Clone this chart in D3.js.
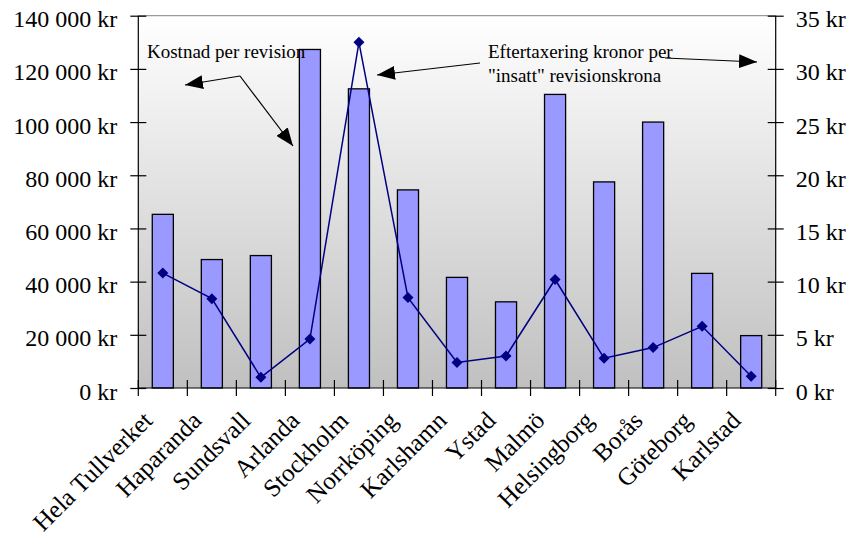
<!DOCTYPE html>
<html lang="sv">
<head>
<meta charset="utf-8">
<title>Kostnad per revision och eftertaxering</title>
<script src="https://cdn.jsdelivr.net/npm/d3@7"></script>
<style>
  html, body { margin: 0; padding: 0; background: #ffffff; }
  svg { display: block; font-family: "Liberation Serif", "Times New Roman", serif; }
</style>
</head>
<body>
<svg id="chart" width="854" height="544"></svg>
<script>
// Tullverkets revisionsenheter
const categories = [
  "Hela Tullverket", "Haparanda", "Sundsvall", "Arlanda", "Stockholm",
  "Norrköping", "Karlshamn", "Ystad", "Malmö", "Helsingborg",
  "Borås", "Göteborg", "Karlstad"
];
// Kostnad per revision (kr), vänster axel
const costPerAudit = [65300, 48300, 49800, 127300, 112500, 74500, 41600, 32400, 110400, 77500, 100000, 43100, 19700];
// Eftertaxering i kronor per insatt revisionskrona, höger axel
const extraTaxPerKrona = [10.8, 8.4, 1.0, 4.6, 32.5, 8.5, 2.4, 3.0, 10.2, 2.8, 3.8, 5.8, 1.1];

const leftTicks = [0, 20000, 40000, 60000, 80000, 100000, 120000, 140000];
const rightTicks = [0, 5, 10, 15, 20, 25, 30, 35];

const annotationCost = "Kostnad per revision";
const annotationTaxLines = ["Eftertaxering kronor per", "\"insatt\" revisionskrona"];

const svg = d3.select("#chart");
const plot = { left: 138.3, right: 775.7, top: 15.7, bottom: 388 };

const sv = d3.formatLocale({ decimal: ",", thousands: " ", grouping: [3], currency: ["", " kr"] });
const fmtKr = sv.format("$,.0f");

const x = d3.scaleBand().domain(categories).range([plot.left, plot.right])
  .paddingInner(0.57).paddingOuter(0.285);
const yL = d3.scaleLinear().domain([0, 140000]).range([plot.bottom, plot.top]);
const yR = d3.scaleLinear().domain([0, 35]).range([plot.bottom, plot.top]);

// plot area background: white fading to grey
const defs = svg.append("defs");
const grad = defs.append("linearGradient").attr("id", "bg")
  .attr("x1", 0).attr("y1", 0).attr("x2", 0).attr("y2", 1);
grad.append("stop").attr("offset", "0%").attr("stop-color", "#ffffff");
grad.append("stop").attr("offset", "100%").attr("stop-color", "#c0c0c0");

defs.append("marker").attr("id", "arrow")
  .attr("viewBox", "0 0 18 14").attr("refX", 18).attr("refY", 7)
  .attr("markerWidth", 18).attr("markerHeight", 14)
  .attr("markerUnits", "userSpaceOnUse").attr("orient", "auto")
  .append("path").attr("d", "M0,0 L18,7 L0,14 Z").attr("fill", "#000");

svg.append("rect")
  .attr("x", plot.left).attr("y", plot.top)
  .attr("width", plot.right - plot.left).attr("height", plot.bottom - plot.top)
  .attr("fill", "url(#bg)");

// top border of plot area
svg.append("line")
  .attr("x1", plot.left).attr("x2", plot.right)
  .attr("y1", plot.top).attr("y2", plot.top)
  .attr("stroke", "#9a9a9a").attr("stroke-width", 1.2);

// bars
svg.append("g").selectAll("rect")
  .data(categories)
  .join("rect")
  .attr("x", d => x(d))
  .attr("y", (d, i) => yL(costPerAudit[i]))
  .attr("width", x.bandwidth())
  .attr("height", (d, i) => yL(0) - yL(costPerAudit[i]))
  .attr("fill", "#9999ff")
  .attr("stroke", "#000")
  .attr("stroke-width", 1.3);

// line series
const cx = d => x(d) + x.bandwidth() / 2;
const line = d3.line().x((d, i) => cx(categories[i])).y(d => yR(d));
svg.append("path")
  .datum(extraTaxPerKrona)
  .attr("d", line)
  .attr("fill", "none")
  .attr("stroke", "#000080")
  .attr("stroke-width", 1.5);

svg.append("g").selectAll("path")
  .data(extraTaxPerKrona)
  .join("path")
  .attr("transform", (d, i) => `translate(${cx(categories[i])},${yR(d)})`)
  .attr("d", "M0,-5.5 L5.5,0 L0,5.5 L-5.5,0 Z")
  .attr("fill", "#000080");

// left axis
const axL = svg.append("g").attr("transform", `translate(${plot.left},0)`)
  .call(d3.axisLeft(yL).tickValues(leftTicks).tickFormat(fmtKr).tickSize(8).tickPadding(13));
axL.select(".domain").attr("stroke", "#000").attr("stroke-width", 1.2).attr("d", `M0,${plot.top}V${plot.bottom}`);
axL.selectAll(".tick line").attr("x1", 8).attr("x2", -8).attr("stroke", "#000").attr("stroke-width", 1.2);
axL.selectAll(".tick text")
  .attr("font-family", "Liberation Serif, Times New Roman, serif")
  .attr("font-size", 24).attr("fill", "#000").attr("dy", null).attr("y", 11);

// right axis
const axR = svg.append("g").attr("transform", `translate(${plot.right},0)`)
  .call(d3.axisRight(yR).tickValues(rightTicks).tickFormat(d => d + " kr").tickSize(8).tickPadding(12));
axR.select(".domain").attr("stroke", "#000").attr("stroke-width", 1.2).attr("d", `M0,${plot.top}V${plot.bottom}`);
axR.selectAll(".tick line").attr("x1", -8).attr("x2", 8).attr("stroke", "#000").attr("stroke-width", 1.2);
axR.selectAll(".tick text")
  .attr("font-family", "Liberation Serif, Times New Roman, serif")
  .attr("font-size", 24).attr("fill", "#000").attr("dy", null).attr("y", 11);

// bottom axis: line and ticks on category boundaries
const step = x.step();
const bounds = d3.range(categories.length + 1).map(i => plot.left + i * step);
svg.append("line")
  .attr("x1", plot.left).attr("x2", plot.right)
  .attr("y1", plot.bottom).attr("y2", plot.bottom)
  .attr("stroke", "#000").attr("stroke-width", 1.2);
svg.append("g").selectAll("line")
  .data(bounds)
  .join("line")
  .attr("x1", d => d).attr("x2", d => d)
  .attr("y1", plot.bottom - 8).attr("y2", plot.bottom + 8)
  .attr("stroke", "#000").attr("stroke-width", 1.2);

// rotated category labels
svg.append("g").selectAll("text")
  .data(categories)
  .join("text")
  .attr("transform", d => `translate(${cx(d) - 9},${422}) rotate(-45)`)
  .attr("text-anchor", "end")
  .attr("font-size", 25)
  .attr("fill", "#000")
  .text(d => d);

// annotations
const ann = svg.append("g").attr("font-size", 19).attr("fill", "#000");
ann.append("text").attr("x", 147).attr("y", 58).text(annotationCost);
ann.selectAll("text.tax")
  .data(annotationTaxLines)
  .join("text").attr("class", "tax")
  .attr("x", 488).attr("y", (d, i) => 58 + i * 24)
  .text(d => d);

const arrows = svg.append("g").attr("stroke", "#000").attr("stroke-width", 1.2).attr("fill", "none");
arrows.append("line").attr("x1", 240).attr("y1", 76).attr("x2", 185).attr("y2", 85).attr("marker-end", "url(#arrow)");
arrows.append("line").attr("x1", 240).attr("y1", 76).attr("x2", 293).attr("y2", 146).attr("marker-end", "url(#arrow)");
arrows.append("line").attr("x1", 480).attr("y1", 63).attr("x2", 377).attr("y2", 75).attr("marker-end", "url(#arrow)");
arrows.append("line").attr("x1", 665).attr("y1", 58).attr("x2", 757).attr("y2", 62).attr("marker-end", "url(#arrow)");
</script>
</body>
</html>
